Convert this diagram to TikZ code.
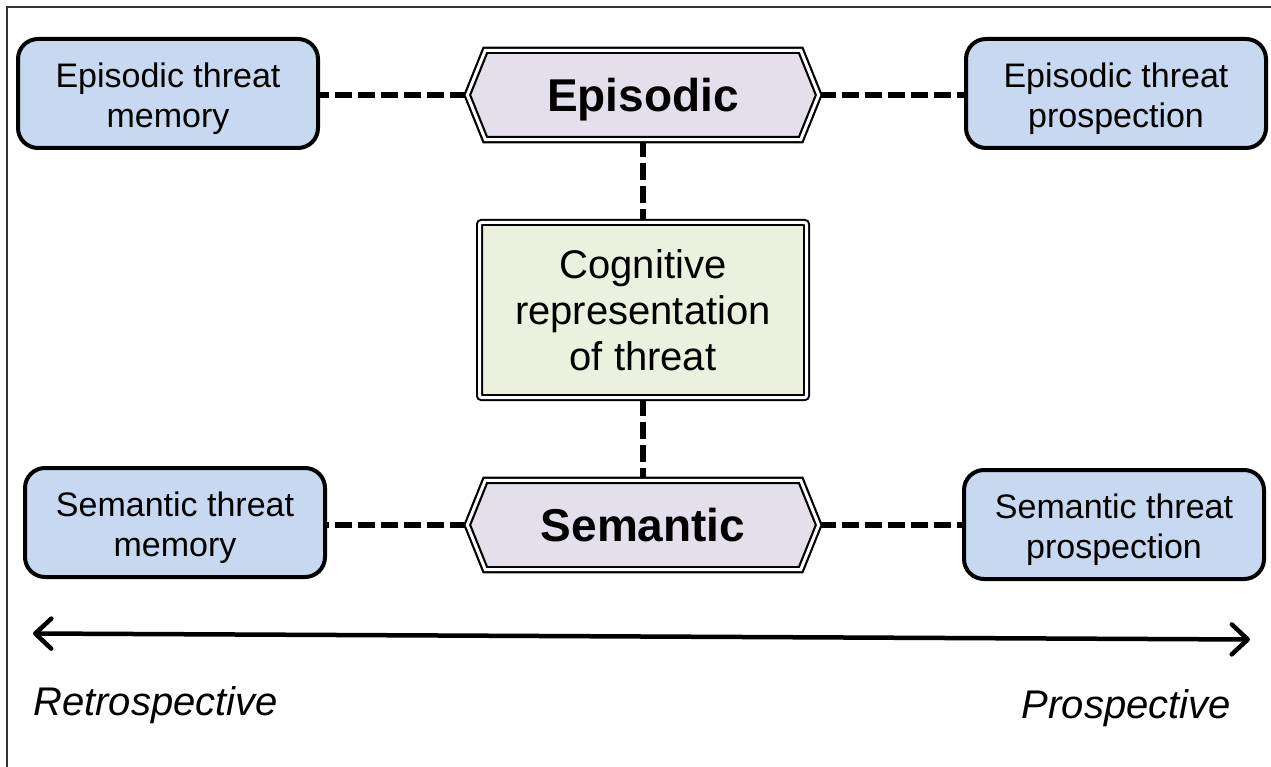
\documentclass[tikz,border=0pt]{standalone}
\usepackage{fontspec}
\setmainfont{Liberation Sans}
\usetikzlibrary{arrows.meta,calc,backgrounds}
\definecolor{memblue}{HTML}{C6D9F0}
\definecolor{hexlav}{HTML}{E5DFEC}
\definecolor{cogreen}{HTML}{EBF1DE}
\definecolor{framegray}{HTML}{333333}

\begin{document}
\begin{tikzpicture}[x=1pt,y=-1pt,
  membox/.style={draw, line width=4pt, fill=memblue, rounded corners=20pt,
    minimum width=300pt, minimum height=109pt, align=center, inner sep=0pt,
    text height=75pt, font=\fontsize{34}{40}\selectfont},
  hexlabel/.style={minimum width=351pt, minimum height=89pt, inner sep=0pt,
    text depth=0pt, font=\fontsize{46}{50}\selectfont\bfseries},
  hexborder/.style={draw, line width=2.2pt, double, double distance=3pt, fill=hexlav},
  cogbox/.style={draw, line width=2pt, double, double distance=3pt, fill=cogreen,
    rounded corners=2pt, minimum width=327pt, minimum height=175pt,
    align=center, inner sep=0pt, font=\fontsize{40}{46}\selectfont},
  dashline/.style={line width=5.5pt, dash pattern=on 17pt off 6pt},
  axis/.style={line width=4.5pt, {Straight Barb[round,length=16pt,width=30pt]}-{Straight Barb[round,length=16pt,width=30pt]}},
  endlabel/.style={inner sep=0pt, font=\fontsize{40}{46}\selectfont\itshape},
  frameline/.style={line width=2pt, draw=framegray}
]
\useasboundingbox (0,0) rectangle (1271,767);

% partial frame: top and left edges
\draw[frameline] (7,767) -- (7,7) -- (1271,7);

% memory / prospection boxes
\node[membox] (etm) at (168,93.5) {Episodic threat\\memory};
\node[membox] (etp) at (1116,93.5) {Episodic threat\\prospection};
\node[membox] (stm) at (175,522.5) {Semantic threat\\memory};
\node[membox] (stp) at (1114,524.5) {Semantic threat\\prospection};

% central labels
\node[hexlabel] (epi) at (643,95) {Episodic};
\node[hexlabel] (sem) at (643,525) {Semantic};
\node[cogbox] (cog) at (643,310) {Cognitive\\representation\\of threat};

% dashed links, drawn first so the boxes sit on top of their ends
\begin{scope}[on background layer]
  \draw[dashline] (epi.west) -- (epi.west -| etm.east);
  \draw[dashline] (epi.east) -- (epi.east -| etp.west);
  \draw[dashline] (sem.west) -- (sem.west -| stm.east);
  \draw[dashline] (sem.east) -- (sem.east -| stp.west);
  \draw[dashline] (epi.south) -- (cog.north);
  \draw[dashline] (cog.south) -- (sem.north);
  % hexagonal frames behind the labels
  \foreach \h in {epi,sem} {
    \draw[hexborder] (\h.west) -- ($(\h.north west)+(18,0)$) -- ($(\h.north east)+(-18,0)$)
      -- (\h.east) -- ($(\h.south east)+(-18,0)$) -- ($(\h.south west)+(18,0)$) -- cycle;
  }
\end{scope}

% time axis
\coordinate (aL) at (33,633.5);
\coordinate (aR) at (1250,639.5);
\draw[axis] (aL) -- (aR);
\node[endlabel, anchor=base west] (retro) at (33,715) {Retrospective};
\node[endlabel, anchor=base east] (prosp) at (1231,718) {Prospective};
\end{tikzpicture}
\end{document}
